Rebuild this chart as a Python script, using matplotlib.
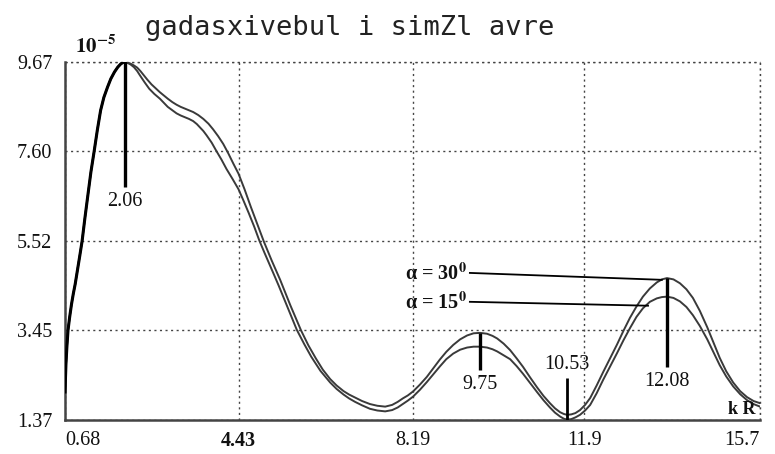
import numpy as np
import matplotlib
matplotlib.use("Agg")
from matplotlib import pyplot as plt

plt.rcParams['font.family'] = ['Liberation Serif', 'DejaVu Serif']
plt.rcParams['mathtext.fontset'] = 'stix'

# shared rising branch (both angles coincide up to the first maximum)
rise_x = [0.68, 0.70, 0.72, 0.745, 0.78, 0.82, 0.86, 0.90, 0.95, 1.00, 1.05, 1.11, 1.18, 1.24,
          1.31, 1.38, 1.45, 1.52, 1.60, 1.67, 1.75, 1.82, 1.88, 1.93, 1.98]
rise_y = [2.02, 2.65, 3.05, 3.45, 3.75, 4.05, 4.30, 4.52, 4.85, 5.18, 5.52, 6.05, 6.63, 7.12,
          7.60, 8.10, 8.55, 8.85, 9.09, 9.28, 9.44, 9.55, 9.62, 9.66, 9.67]

# alpha = 30 deg, after the first maximum
tail_x_30 = [2.03, 2.10, 2.17, 2.24, 2.31, 2.37, 2.46, 2.55, 2.64, 2.73, 2.82, 2.90, 3.00, 3.09,
             3.18, 3.27, 3.36, 3.45, 3.56, 3.67, 3.78, 3.88, 3.99, 4.10, 4.21, 4.32, 4.43, 4.56,
             4.70, 4.84, 4.98, 5.15, 5.33, 5.55, 5.78, 5.94, 6.10, 6.25, 6.41, 6.55, 6.70, 6.82,
             6.95, 7.10, 7.27, 7.43, 7.60, 7.75, 7.87, 7.98, 8.09, 8.20, 8.35, 8.50, 8.64, 8.78,
             8.92, 9.07, 9.22, 9.37, 9.51, 9.65, 9.80, 9.92, 10.02, 10.16, 10.30, 10.44, 10.58,
             10.73, 10.88, 11.02, 11.16, 11.27, 11.38, 11.46, 11.53, 11.62, 11.71, 11.81, 11.92,
             12.03, 12.17, 12.31, 12.46, 12.61, 12.75, 12.89, 13.03, 13.17, 13.32, 13.47, 13.58,
             13.69, 13.83, 13.97, 14.11, 14.25, 14.40, 14.56, 14.70, 14.83, 14.97, 15.12, 15.27,
             15.42, 15.56, 15.70]
tail_y_30 = [9.66, 9.63, 9.59, 9.54, 9.46, 9.38, 9.26, 9.15, 9.06, 8.97, 8.89, 8.82, 8.74, 8.68,
             8.63, 8.59, 8.55, 8.51, 8.44, 8.35, 8.24, 8.11, 7.95, 7.77, 7.55, 7.31, 7.08, 6.72,
             6.30, 5.90, 5.50, 5.06, 4.62, 4.03, 3.45, 3.10, 2.80, 2.54, 2.32, 2.17, 2.04, 1.96,
             1.89, 1.81, 1.74, 1.70, 1.68, 1.72, 1.79, 1.87, 1.94, 2.03, 2.19, 2.37, 2.57, 2.77,
             2.95, 3.11, 3.24, 3.33, 3.38, 3.39, 3.37, 3.32, 3.26, 3.14, 2.99, 2.80, 2.60,
             2.36, 2.13, 1.93, 1.76, 1.64, 1.55, 1.51, 1.49, 1.50, 1.53, 1.60, 1.72,
             1.88, 2.17, 2.48, 2.80, 3.12, 3.44, 3.74, 4.00, 4.23, 4.42, 4.56, 4.63,
             4.66, 4.63, 4.54, 4.40, 4.20, 3.90, 3.52, 3.15, 2.81, 2.50, 2.24, 2.04,
             1.90, 1.81, 1.76]

# alpha = 15 deg, after the first maximum
tail_x_15 = [2.03, 2.10, 2.17, 2.24, 2.30, 2.40, 2.50, 2.61, 2.73, 2.82, 2.90, 3.00, 3.09, 3.18,
             3.27, 3.36, 3.45, 3.53, 3.60, 3.67, 3.74, 3.85, 3.95, 4.06, 4.17, 4.30, 4.43, 4.54,
             4.65, 4.77, 4.88, 4.99, 5.10, 5.20, 5.30, 5.50, 5.69, 5.85, 6.00, 6.20, 6.41, 6.55,
             6.70, 6.82, 6.95, 7.10, 7.27, 7.43, 7.60, 7.75, 7.87, 7.98, 8.09, 8.20, 8.35, 8.50,
             8.64, 8.78, 8.92, 9.07, 9.22, 9.37, 9.51, 9.65, 9.80, 9.92, 10.02, 10.16, 10.30,
             10.44, 10.58, 10.73, 10.88, 11.02, 11.16, 11.27, 11.38, 11.46, 11.53, 11.62, 11.71,
             11.81, 11.92, 12.03, 12.17, 12.31, 12.46, 12.61, 12.75, 12.89, 13.03, 13.17, 13.32,
             13.47, 13.58, 13.69, 13.83, 13.97, 14.11, 14.25, 14.40, 14.56, 14.70, 14.83, 14.97,
             15.12, 15.27, 15.42, 15.56, 15.70]
tail_y_15 = [9.65, 9.61, 9.55, 9.46, 9.36, 9.20, 9.05, 8.93, 8.82, 8.72, 8.63, 8.55, 8.48, 8.43,
             8.39, 8.35, 8.30, 8.23, 8.15, 8.07, 7.97, 7.80, 7.61, 7.41, 7.19, 6.96, 6.72, 6.45,
             6.17, 5.85, 5.53, 5.25, 4.98, 4.73, 4.48, 3.96, 3.46, 3.13, 2.84, 2.51, 2.24, 2.09,
             1.96, 1.87, 1.79, 1.71, 1.63, 1.59, 1.57, 1.60, 1.66, 1.74, 1.82, 1.91, 2.07, 2.25,
             2.43, 2.61, 2.78, 2.91, 3.00, 3.05, 3.07, 3.07, 3.05, 3.01, 2.96, 2.87, 2.78,
             2.62, 2.44, 2.23, 2.02, 1.83, 1.66, 1.54, 1.45, 1.40, 1.38, 1.39, 1.43,
             1.49, 1.59, 1.72, 1.99, 2.30, 2.61, 2.92, 3.22, 3.50, 3.76, 3.96, 4.11,
             4.19, 4.22, 4.23, 4.20, 4.12, 3.99, 3.80, 3.55, 3.24, 2.93, 2.64, 2.38,
             2.15, 1.97, 1.83, 1.74, 1.68]

x_ticks = [0.68, 4.43, 8.19, 11.9, 15.7]
y_ticks = [1.37, 3.45, 5.52, 7.60, 9.67]

# captions written under/over the extremum markers
extremum_text = ["2.06", "9.75", "10.53", "12.08"]

x30 = np.array(rise_x + tail_x_30)
y30 = np.array(rise_y + tail_y_30)
x15 = np.array(rise_x + tail_x_15)
y15 = np.array(rise_y + tail_y_15)

fig = plt.figure(figsize=(7.75, 4.54), dpi=100)
ax = fig.add_axes([65 / 775, 34 / 454, 695 / 775, 358 / 454])

line_col = '#3a3a3a'
ax.plot(x15, y15, color=line_col, lw=1.4, zorder=3, solid_joinstyle='round')
ax.plot(x30, y30, color=line_col, lw=1.4, zorder=3, solid_joinstyle='round')
# the common rising branch reads as one heavy stroke
ax.plot(rise_x, rise_y, color='black', lw=2.2, zorder=3, solid_joinstyle='round')

ax.set_xlim(x_ticks[0], x_ticks[-1])
ax.set_ylim(y_ticks[0], y_ticks[-1])
ax.set_xticks(x_ticks)
ax.set_xticklabels([f"{v:g}" for v in x_ticks])
ax.set_yticks(y_ticks)
ax.set_yticklabels([f"{v:.2f}" for v in y_ticks])
ax.tick_params(length=0, labelsize=14.5, colors='#111111')
ax.tick_params(axis='y', pad=9)
ax.tick_params(axis='x', pad=8)
xl = ax.get_xticklabels()
xl[0].set_ha('left')
xl[-1].set_ha('right')
xl[1].set_fontweight('bold')

dots = (0, (1.5, 2.5))
ax.grid(True, color='#444444', lw=1.0, linestyle=dots, zorder=1)
for s in ['top', 'right']:
    ax.spines[s].set_visible(False)
for s in ['left', 'bottom']:
    ax.spines[s].set_color('#444444')
    ax.spines[s].set_linewidth(1.8)
# dotted frame on the open sides
ax.axhline(y_ticks[-1], color='#444444', lw=1.0, linestyle=dots, clip_on=False, zorder=1)
ax.axvline(x_ticks[-1], color='#444444', lw=1.0, linestyle=dots, clip_on=False, zorder=1)

# vertical markers at the extrema of the alpha=30 curve
seg = [(0.68, 3.0), (8.5, 10.5), (10.6, 12.5), (12.5, 15.0)]
kinds = ['max', 'max', 'min', 'max']
ends = [6.77, 2.53, 2.34, 2.60]
for (a, b), kind, end, txt in zip(seg, kinds, ends, extremum_text):
    m = (x30 >= a) & (x30 <= b)
    i = np.argmax(y30[m]) if kind == 'max' else np.argmin(y30[m])
    xe, ye = x30[m][i], y30[m][i]
    if kind == 'max':
        ax.plot([xe, xe], [ye, end], color='black', lw=2.4, zorder=4, solid_capstyle='butt')
        ax.text(xe, end - 0.12, txt, ha='center', va='top', fontsize=14.5, color='#111111')
    else:
        ax.plot([xe, xe], [y_ticks[0], end], color='black', lw=2.0, zorder=4, solid_capstyle='butt')
        ax.text(xe, end + 0.1, txt, ha='center', va='bottom', fontsize=14.5, color='#111111')

# angle labels with leader lines
ax.plot([9.43, 13.58], [4.78, 4.62], color='black', lw=1.3, zorder=4)
ax.plot([9.43, 13.28], [4.11, 4.02], color='black', lw=1.3, zorder=4)
ax.text(9.36, 4.76, r'α = 30$^{\mathbf{0}}$', ha='right', va='center', fontsize=14.5,
        fontweight='bold', color='#111111')
ax.text(9.36, 4.09, r'α = 15$^{\mathbf{0}}$', ha='right', va='center', fontsize=14.5,
        fontweight='bold', color='#111111')

ax.text(15.6, 1.42, 'k R', ha='right', va='bottom', fontsize=13, fontweight='bold', color='#111111')
ax.text(0.014, 1.025, r'$\mathbf{10^{-5}}$', transform=ax.transAxes, ha='left', va='baseline',
        fontsize=15, color='#111111')

fig.text(145 / 775, 1 - 35 / 454, 'gadasxivebul i simZl avre', family='DejaVu Sans Mono',
         fontsize=19.5, ha='left', va='baseline', color='#222222')

fig.savefig('out.png', dpi=100)
